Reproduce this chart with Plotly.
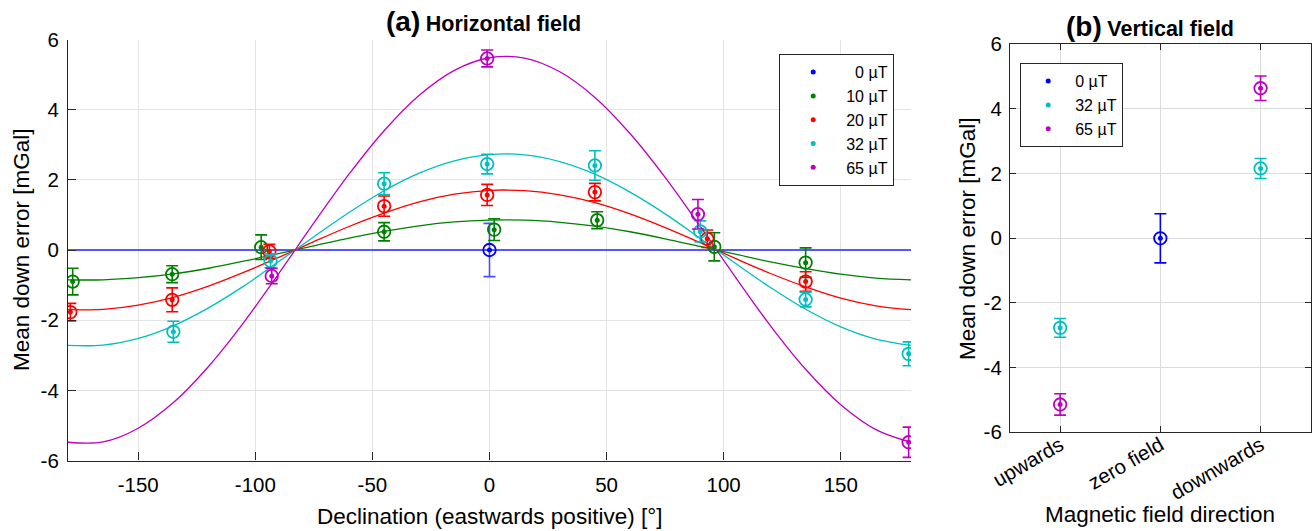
import plotly.graph_objects as go

# ---------------- data: panel (a) horizontal field ----------------
series_names = ["0 µT", "10 µT", "20 µT", "32 µT", "65 µT"]
legend_labels = ["\u00a0\u00a00 µT", "10 µT", "20 µT", "32 µT", "65 µT"]
series_colors = ["#0000FF", "#008000", "#FF0000", "#00BFBF", "#BF00BF"]

x_0uT = [0]
y_0uT = [0.0]
e_0uT = [0.76]

x_10uT = [-178, -135.5, -97.5, -45, 2, 46, 96, 135]
y_10uT = [-0.90, -0.69, 0.08, 0.52, 0.58, 0.85, 0.09, -0.36]
e_10uT = [0.38, 0.24, 0.35, 0.26, 0.31, 0.24, 0.40, 0.42]

x_20uT = [-179, -135.5, -94, -45, -1, 45, 93, 135]
y_20uT = [-1.77, -1.42, -0.04, 1.25, 1.57, 1.65, 0.32, -0.90]
e_20uT = [0.25, 0.34, 0.20, 0.29, 0.30, 0.25, 0.25, 0.28]

x_32uT = [-135, -93.5, -45, -1, 45, 90, 135, 179]
y_32uT = [-2.33, -0.31, 1.89, 2.45, 2.41, 0.53, -1.41, -2.96]
e_32uT = [0.30, 0.20, 0.31, 0.28, 0.42, 0.30, 0.21, 0.34]

x_65uT = [-93, -1, 89, 179]
y_65uT = [-0.74, 5.46, 1.02, -5.48]
e_65uT = [0.22, 0.24, 0.42, 0.43]

# fitted curves, every 15 degrees
fit_x = [-180, -165, -150, -135, -120, -105, -90, -75, -60, -45, -30, -15, 0,
         15, 30, 45, 60, 75, 90, 105, 120, 135, 150, 165, 180]
fit_0uT = [0.0] * 25
fit_10uT = [-0.85, -0.85, -0.79, -0.68, -0.52, -0.32, -0.10, 0.12, 0.34, 0.53, 0.69, 0.80, 0.85,
            0.85, 0.79, 0.68, 0.52, 0.32, 0.10, -0.12, -0.34, -0.53, -0.69, -0.80, -0.85]
fit_20uT = [-1.70, -1.69, -1.57, -1.35, -1.03, -0.64, -0.21, 0.24, 0.67, 1.05, 1.37, 1.59, 1.70,
            1.69, 1.57, 1.35, 1.03, 0.64, 0.21, -0.24, -0.67, -1.05, -1.37, -1.59, -1.70]
fit_32uT = [-2.72, -2.71, -2.52, -2.16, -1.65, -1.03, -0.33, 0.38, 1.07, 1.69, 2.19, 2.54, 2.72,
            2.71, 2.52, 2.16, 1.65, 1.03, 0.33, -0.38, -1.07, -1.69, -2.19, -2.54, -2.72]
fit_65uT = [-5.48, -5.47, -5.08, -4.35, -3.32, -2.07, -0.67, 0.77, 2.16, 3.40, 4.41, 5.12, 5.48,
            5.47, 5.08, 4.35, 3.32, 2.07, 0.67, -0.77, -2.16, -3.40, -4.41, -5.12, -5.48]

a_xticks = [-150, -100, -50, 0, 50, 100, 150]
a_xticktext = ["-150", "-100", "-50", "0", "50", "100", "150"]
yticks = [-6, -4, -2, 0, 2, 4, 6]
yticktext = ["-6", "-4", "-2", "0", "2", "4", "6"]

# ---------------- data: panel (b) vertical field ----------------
b_categories = ["upwards", "zero field", "downwards"]
b_names = ["0 µT", "32 µT", "65 µT"]
b_colors = ["#0000FF", "#00BFBF", "#BF00BF"]
b_x_0uT = ["zero field"]
b_y_0uT = [0.0]
b_e_0uT = [0.76]
b_x_32uT = ["upwards", "downwards"]
b_y_32uT = [-2.77, 2.16]
b_e_32uT = [0.29, 0.31]
b_x_65uT = ["upwards", "downwards"]
b_y_65uT = [-5.14, 4.64]
b_e_65uT = [0.33, 0.38]

FONT = "Liberation Sans, Arial, sans-serif"
W, H = 1313, 531

fig = go.Figure()

a_sets = [
    (x_0uT, y_0uT, e_0uT, fit_0uT),
    (x_10uT, y_10uT, e_10uT, fit_10uT),
    (x_20uT, y_20uT, e_20uT, fit_20uT),
    (x_32uT, y_32uT, e_32uT, fit_32uT),
    (x_65uT, y_65uT, e_65uT, fit_65uT),
]

# fit lines
for i, (_, _, _, fy) in enumerate(a_sets):
    col = series_colors[i]
    lw = 1.3
    if i == 0:
        col = "rgba(60,60,255,0.85)"
        lw = 2
    fig.add_trace(go.Scatter(x=fit_x, y=fy, mode="lines",
                             line=dict(color=col, width=lw, shape="spline", smoothing=1.0),
                             showlegend=False, hoverinfo="skip", xaxis="x", yaxis="y"))

# rings with error bars + dots
for i, (xs, ys, es, _) in enumerate(a_sets):
    col = series_colors[i]
    ecol = "rgba(60,60,255,0.9)" if i == 0 else col
    fig.add_trace(go.Scatter(x=xs, y=ys, mode="markers",
                             marker=dict(symbol="circle-open", size=12.5, color=col, line=dict(width=1.8, color=col)),
                             error_y=dict(type="data", array=es, visible=True, color=ecol, thickness=1.6, width=6),
                             showlegend=False, xaxis="x", yaxis="y"))
for i, (xs, ys, es, _) in enumerate(a_sets):
    col = series_colors[i]
    fig.add_trace(go.Scatter(x=xs, y=ys, mode="markers", name=legend_labels[i],
                             marker=dict(symbol="circle", size=5, color=col),
                             showlegend=True, legend="legend", xaxis="x", yaxis="y"))

b_sets = [
    (b_x_0uT, b_y_0uT, b_e_0uT),
    (b_x_32uT, b_y_32uT, b_e_32uT),
    (b_x_65uT, b_y_65uT, b_e_65uT),
]
for i, (xs, ys, es) in enumerate(b_sets):
    col = b_colors[i]
    fig.add_trace(go.Scatter(x=xs, y=ys, mode="markers",
                             marker=dict(symbol="circle-open", size=12.5, color=col, line=dict(width=1.8, color=col)),
                             error_y=dict(type="data", array=es, visible=True, color=col, thickness=1.6, width=6),
                             showlegend=False, xaxis="x2", yaxis="y2"))
for i, (xs, ys, es) in enumerate(b_sets):
    col = b_colors[i]
    fig.add_trace(go.Scatter(x=xs, y=ys, mode="markers", name=b_names[i],
                             marker=dict(symbol="circle", size=5, color=col),
                             showlegend=True, legend="legend2", xaxis="x2", yaxis="y2"))

AX = "#262626"
GRID = "#e3e3e3"

def px(x):
    return x / W

def py(y):
    return 1 - y / H

fig.update_layout(
    width=W, height=H,
    margin=dict(l=0, r=0, t=0, b=0),
    paper_bgcolor="white", plot_bgcolor="white",
    font=dict(family=FONT, size=20, color="black"),
    xaxis=dict(domain=[px(68), px(911)], range=[-180, 180], anchor="y",
               tickmode="array", tickvals=a_xticks, ticktext=a_xticktext,
               showgrid=True, gridcolor=GRID, gridwidth=1, zeroline=False,
               showline=True, linecolor=AX, linewidth=1.2,
               ticks="inside", ticklen=8, tickcolor=AX, tickwidth=1.2,
               ticklabelstandoff=6, tickfont=dict(size=20.5, family=FONT, color="black"),
               automargin=False),
    yaxis=dict(domain=[py(460.5), py(39.5)], range=[-6, 6], anchor="x",
               tickmode="array", tickvals=yticks, ticktext=yticktext,
               showgrid=True, gridcolor=GRID, gridwidth=1, zeroline=False,
               showline=True, linecolor=AX, linewidth=1.2,
               ticks="inside", ticklen=8, tickcolor=AX, tickwidth=1.2,
               ticklabelstandoff=4, tickfont=dict(size=20.5, family=FONT, color="black"),
               automargin=False),
    xaxis2=dict(domain=[px(1010), px(1310.7)], range=[-0.5, 2.5], anchor="y2",
                type="category", categoryorder="array", categoryarray=b_categories,
                tickmode="array", tickvals=b_categories, ticktext=b_categories,
                showgrid=True, gridcolor="#dcdcdc", gridwidth=1, zeroline=False,
                showline=True, mirror="ticks", linecolor=AX, linewidth=1.2,
                ticks="inside", ticklen=6, tickcolor=AX, tickwidth=1.2,
                tickangle=-30, ticklabelstandoff=-8,
                tickfont=dict(size=20.5, family=FONT, color="black"),
                automargin=False),
    yaxis2=dict(domain=[py(432.3), py(44.3)], range=[-6, 6], anchor="x2",
                tickmode="array", tickvals=yticks, ticktext=yticktext,
                showgrid=True, gridcolor="#dcdcdc", gridwidth=1, zeroline=False,
                showline=True, mirror="ticks", linecolor=AX, linewidth=1.2,
                ticks="inside", ticklen=6, tickcolor=AX, tickwidth=1.2,
                ticklabelstandoff=3, tickfont=dict(size=20.5, family=FONT, color="black"),
                automargin=False),
    legend=dict(x=px(779), y=py(54), xanchor="left", yanchor="top",
                bgcolor="white", bordercolor=AX, borderwidth=1.2,
                font=dict(size=16, family=FONT, color="black"),
                itemwidth=56, tracegroupgap=0),
    legend2=dict(x=px(1020), y=py(63), xanchor="left", yanchor="top",
                 bgcolor="white", bordercolor=AX, borderwidth=1.2,
                 font=dict(size=16, family=FONT, color="black"),
                 itemwidth=44, tracegroupgap=0),
    showlegend=True,
)

annotations = [
    dict(text="<b><span style='font-size:28px'>(a)</span> <span style='font-size:21.5px'>Horizontal field</span></b>",
         x=px(483), y=py(22), xref="paper", yref="paper", xanchor="center", yanchor="middle",
         showarrow=False, font=dict(family=FONT, color="black")),
    dict(text="<b><span style='font-size:28px'>(b)</span> <span style='font-size:21.5px'>Vertical field</span></b>",
         x=px(1150), y=py(27), xref="paper", yref="paper", xanchor="center", yanchor="middle",
         showarrow=False, font=dict(family=FONT, color="black")),
    dict(text="Mean down error [mGal]", textangle=-90,
         x=px(21), y=py(250), xref="paper", yref="paper", xanchor="center", yanchor="middle",
         showarrow=False, font=dict(family=FONT, size=22.5, color="black")),
    dict(text="Mean down error [mGal]", textangle=-90,
         x=px(967), y=py(239), xref="paper", yref="paper", xanchor="center", yanchor="middle",
         showarrow=False, font=dict(family=FONT, size=22.5, color="black")),
    dict(text="Declination (eastwards positive) [°]",
         x=px(489.5), y=py(516), xref="paper", yref="paper", xanchor="center", yanchor="middle",
         showarrow=False, font=dict(family=FONT, size=22.5, color="black")),
    dict(text="Magnetic field direction",
         x=px(1160), y=py(514), xref="paper", yref="paper", xanchor="center", yanchor="middle",
         showarrow=False, font=dict(family=FONT, size=22.5, color="black")),
]
fig.update_layout(annotations=annotations)

fig.write_html("out.html")
